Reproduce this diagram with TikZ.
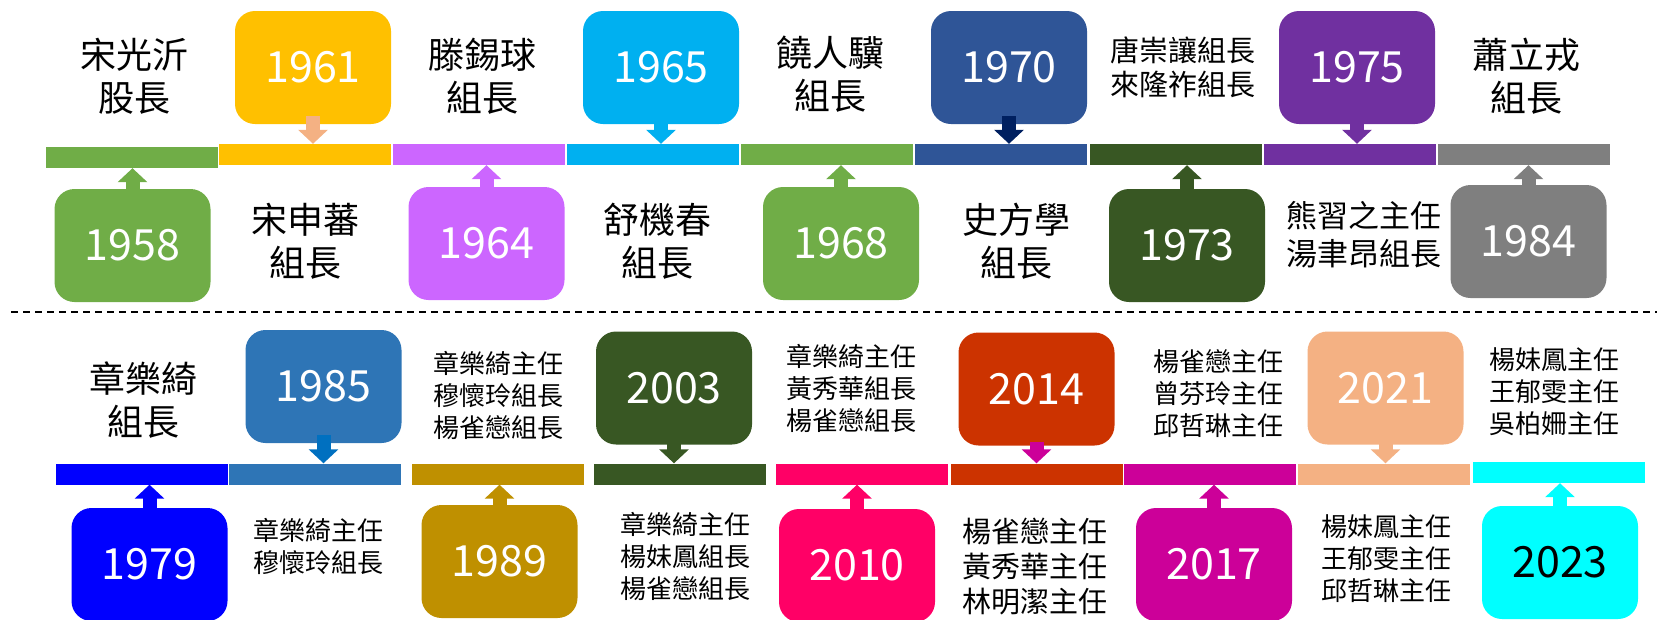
\documentclass[tikz,border=0pt]{standalone}
\usepackage{fontspec}
\setmainfont{Noto Sans CJK TC}
\usepackage{xcolor}
\usepackage{tikz}
\usetikzlibrary{arrows.meta,positioning}
\definecolor{grass}{HTML}{70AD47}
\definecolor{gold}{HTML}{FFC000}
\definecolor{peach}{HTML}{F4B183}
\definecolor{lilac}{HTML}{CC66FF}
\definecolor{sky}{HTML}{00B0F0}
\definecolor{navy}{HTML}{2F5597}
\definecolor{deepnavy}{HTML}{002060}
\definecolor{forest}{HTML}{385723}
\definecolor{plum}{HTML}{7030A0}
\definecolor{stone}{HTML}{7F7F7F}
\definecolor{pureblue}{HTML}{0000FF}
\definecolor{steel}{HTML}{2E75B6}
\definecolor{ocean}{HTML}{0070C0}
\definecolor{ochre}{HTML}{BF9000}
\definecolor{rose}{HTML}{FF0066}
\definecolor{rust}{HTML}{CC3300}
\definecolor{magenta2}{HTML}{CC0099}
\definecolor{aqua}{HTML}{00FFFF}
\tikzset{year node/.style={rounded corners=20pt,minimum width=156pt,minimum height=113pt,inner sep=0pt,text=white,font=\fontsize{43}{43}\selectfont},
            bar node/.style={minimum width=172pt,minimum height=21pt,inner sep=0pt},
            name node/.style={align=center,inner sep=0pt,font=\fontsize{36}{43}\selectfont},
            small node/.style={align=center,inner sep=0pt,font=\fontsize{26}{32}\selectfont},
            tick arrow/.style={line width=14pt,-{Triangle[width=29pt,length=14pt]}},
            }

\begin{document}
\begin{tikzpicture}[x=1pt,y=-1pt]
    \useasboundingbox (0,0) rectangle (1666,619);

    % upper timeline
    \node[bar node,fill=grass] (s1) at (131.5,157.5) {};
    \node[bar node,fill=gold] (s2) at (305,154.5) {};
    \node[bar node,fill=lilac] (s3) at (478.5,154.5) {};
    \node[bar node,fill=sky] (s4) at (653,154.5) {};
    \node[bar node,fill=grass] (s5) at (826.5,154.5) {};
    \node[bar node,fill=navy] (s6) at (1001,154.5) {};
    \node[bar node,fill=forest] (s7) at (1175.5,154.5) {};
    \node[bar node,fill=plum] (s8) at (1349.5,154.5) {};
    \node[bar node,fill=stone] (s9) at (1523.5,154.5) {};

    \node[year node,fill=grass] (y1958) at (132.5,245.5) {1958};
    \node[year node,fill=gold] (y1961) at (313,67.5) {1961};
    \node[year node,fill=lilac] (y1964) at (486.5,243.5) {1964};
    \node[year node,fill=sky] (y1965) at (661,67.5) {1965};
    \node[year node,fill=grass] (y1968) at (841,243.5) {1968};
    \node[year node,fill=navy] (y1970) at (1009,67.5) {1970};
    \node[year node,fill=forest] (y1973) at (1187,245.5) {1973};
    \node[year node,fill=plum] (y1975) at (1357,67.5) {1975};
    \node[year node,fill=stone] (y1984) at (1528.5,241.5) {1984};

    \draw[tick arrow,grass] ([yshift=-2pt]y1958.north) -- (y1958.north |- s1.south);
    \draw[tick arrow,peach] ([yshift=8pt]y1961.south) -- (y1961.south |- s2.north);
    \draw[tick arrow,lilac] ([yshift=-2pt]y1964.north) -- (y1964.north |- s3.south);
    \draw[tick arrow,sky] ([yshift=2pt]y1965.south) -- (y1965.south |- s4.north);
    \draw[tick arrow,grass] ([yshift=-2pt]y1968.north) -- (y1968.north |- s5.south);
    \draw[tick arrow,deepnavy] ([yshift=8pt]y1970.south) -- (y1970.south |- s6.north);
    \draw[tick arrow,forest] ([yshift=-2pt]y1973.north) -- (y1973.north |- s7.south);
    \draw[tick arrow,plum] ([yshift=2pt]y1975.south) -- (y1975.south |- s8.north);
    \draw[tick arrow,stone] ([yshift=-2pt]y1984.north) -- (y1984.north |- s9.south);

    \node[name node] (n1958) at (134,76.5) {宋光沂\\股長};
    \node[name node] (n1961) at (305,241.5) {宋申蕃\\組長};
    \node[name node] (n1964) at (482,76.5) {滕錫球\\組長};
    \node[name node] (n1965) at (657,241.5) {舒機春\\組長};
    \node[name node] (n1968) at (830,74) {饒人驥\\組長};
    \node[name node] (n1970) at (1016,241.5) {史方學\\組長};
    \node[name node,font=\fontsize{29}{34}\selectfont] (n1973) at (1183,67) {唐崇讓組長\\來隆祚組長};
    \node[name node,font=\fontsize{31}{38}\selectfont] (n1975) at (1364,235) {熊習之主任\\湯聿昂組長};
    \node[name node] (n1984) at (1526,76) {蕭立戎\\組長};

    % divider
    \coordinate (dl) at (11,312);
    \coordinate (dr) at (1657,312);
    \draw[line width=1.5pt,dash pattern=on 7pt off 5pt] (dl) -- (dr);

    % lower timeline
    \node[bar node,fill=pureblue] (t1) at (141.5,474) {};
    \node[bar node,fill=steel] (t2) at (315,474) {};
    \node[bar node,fill=ochre] (t3) at (497.5,474) {};
    \node[bar node,fill=forest] (t4) at (680,474) {};
    \node[bar node,fill=rose] (t5) at (862,474) {};
    \node[bar node,fill=rust] (t6) at (1036.5,474) {};
    \node[bar node,fill=magenta2] (t7) at (1210,474) {};
    \node[bar node,fill=peach] (t8) at (1384,474) {};
    \node[bar node,fill=aqua] (t9) at (1558.5,472.5) {};

    \node[year node,fill=pureblue] (y1979) at (149.5,564.5) {1979};
    \node[year node,fill=steel] (y1985) at (323.5,386.5) {1985};
    \node[year node,fill=ochre] (y1989) at (499.5,561.5) {1989};
    \node[year node,fill=forest] (y2003) at (674,388) {2003};
    \node[year node,fill=rose] (y2010) at (857,565.5) {2010};
    \node[year node,fill=rust] (y2014) at (1036.5,389) {2014};
    \node[year node,fill=magenta2] (y2017) at (1214,564.5) {2017};
    \node[year node,fill=peach] (y2021) at (1385.5,388) {2021};
    \node[year node,fill=aqua,text=black] (y2023) at (1560,562.5) {2023};

    \draw[tick arrow,pureblue] ([yshift=-2pt]y1979.north) -- (y1979.north |- t1.south);
    \draw[tick arrow,ocean] ([yshift=8pt]y1985.south) -- (y1985.south |- t2.north);
    \draw[tick arrow,ochre] ([yshift=-2pt]y1989.north) -- (y1989.north |- t3.south);
    \draw[tick arrow,forest] ([yshift=2pt]y2003.south) -- (y2003.south |- t4.north);
    \draw[tick arrow,rose] ([yshift=-2pt]y2010.north) -- (y2010.north |- t5.south);
    \draw[tick arrow,magenta2] ([yshift=4pt]y2014.south) -- (y2014.south |- t6.north);
    \draw[tick arrow,magenta2] ([yshift=-2pt]y2017.north) -- (y2017.north |- t7.south);
    \draw[tick arrow,peach] ([yshift=2pt]y2021.south) -- (y2021.south |- t8.north);
    \draw[tick arrow,aqua] ([yshift=-2pt]y2023.north) -- (y2023.north |- t9.south);

    \node[name node] (n1979) at (143,400) {章樂綺\\組長};
    \node[small node] (n1985) at (318,546) {章樂綺主任\\穆懷玲組長};
    \node[small node] (n1989) at (498,395.5) {章樂綺主任\\穆懷玲組長\\楊雀戀組長};
    \node[small node] (n2003) at (685,556.5) {章樂綺主任\\楊妹鳳組長\\楊雀戀組長};
    \node[small node] (n2010) at (851,388.5) {章樂綺主任\\黃秀華組長\\楊雀戀組長};
    \node[small node,font=\fontsize{29}{35}\selectfont] (n2014) at (1035,567) {楊雀戀主任\\黃秀華主任\\林明潔主任};
    \node[small node] (n2017) at (1218,394) {楊雀戀主任\\曾芬玲主任\\邱哲琳主任};
    \node[small node] (n2021) at (1386,559) {楊妹鳳主任\\王郁雯主任\\邱哲琳主任};
    \node[small node] (n2023) at (1554,391.5) {楊妹鳳主任\\王郁雯主任\\吳柏姍主任};

\end{tikzpicture}
\end{document}
